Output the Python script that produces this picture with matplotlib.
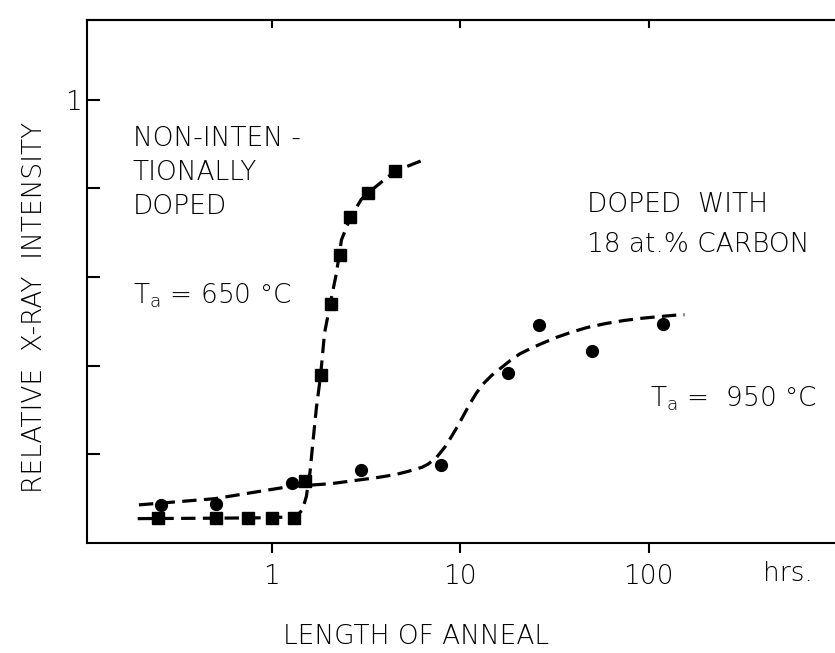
import matplotlib
matplotlib.use('Agg')
import matplotlib.pyplot as plt
import matplotlib.transforms as mtransforms

plt.rcParams['font.family'] = ['DejaVu Sans']
plt.rcParams['font.weight'] = 'light'
plt.rcParams['mathtext.default'] = 'regular'

# squares: non-intentionally doped, Ta = 650 C
sq_x = [0.25, 0.51, 0.75, 1.0, 1.31, 1.50, 1.82, 2.08, 2.32, 2.62, 3.26, 4.53]
sq_y = [0.057, 0.057, 0.057, 0.057, 0.057, 0.14, 0.38, 0.54, 0.65, 0.735, 0.79, 0.84]
# dashed guide through squares
sq_fit_x = [0.195, 0.5, 1.0, 1.35, 1.46, 1.53, 1.6, 1.66, 1.73, 1.82, 1.91, 2.05, 2.21,
            2.35, 2.62, 2.99, 3.26, 3.82, 4.53, 6.2]
sq_fit_y = [0.055, 0.056, 0.057, 0.06, 0.075, 0.105, 0.16, 0.23, 0.305, 0.377, 0.473,
            0.541, 0.609, 0.684, 0.734, 0.775, 0.79, 0.814, 0.839, 0.862]

# circles: doped with 18 at.% carbon, Ta = 950 C
ci_x = [0.26, 0.51, 1.29, 2.99, 7.9, 17.9, 26.2, 49.9, 118.6]
ci_y = [0.086, 0.089, 0.136, 0.164, 0.175, 0.384, 0.491, 0.434, 0.493]
# dashed guide through circles
ci_fit_x = [0.198, 0.5, 0.85, 1.23, 2.08, 3.68, 4.5, 5.24, 6.3, 6.77, 7.5, 8.33, 9.0,
            9.76, 10.5, 11.3, 12.2, 13.2, 14.7, 16.5, 18.5, 20.8, 24, 27.8, 32.5, 38.6,
            47, 59, 74, 92, 115, 139, 155]
ci_fit_y = [0.086, 0.1, 0.116, 0.127, 0.134, 0.148, 0.154, 0.161, 0.171, 0.178, 0.193,
            0.217, 0.24, 0.265, 0.29, 0.315, 0.338, 0.358, 0.378, 0.395, 0.412, 0.427,
            0.44, 0.452, 0.464, 0.475, 0.486, 0.495, 0.502, 0.507, 0.511, 0.514, 0.515]

x_ticks = [1, 10, 100]
x_tick_labels = ['1', '10', '100']
y_ticks = [0.2, 0.4, 0.6, 0.8, 1.0]
y_tick_labels = ['', '', '', '', '1']

fs = 19
fig = plt.figure(figsize=(8.35, 6.53), dpi=100)
ax = fig.add_axes([87 / 835, 1 - 543 / 653, 1 - 87 / 835, (543 - 20) / 653])

ax.plot(sq_fit_x, sq_fit_y, color='black', lw=2.3, dashes=(4.5, 2.3))
ax.plot(ci_fit_x, ci_fit_y, color='black', lw=2.3, dashes=(4.5, 2.3))
ax.plot(sq_x, sq_y, 's', color='black', ms=9, zorder=3)
ax.plot(ci_x, ci_y, 'o', color='black', ms=8.5, zorder=3)

ax.set_xscale('log')
ax.set_xlim(0.105, 975)
ax.set_ylim(0, 1.18)

ax.set_xticks(x_ticks)
ax.set_xticklabels(x_tick_labels)
ax.xaxis.set_minor_locator(matplotlib.ticker.NullLocator())
ax.set_yticks(y_ticks)
ax.set_yticklabels(y_tick_labels)

ax.tick_params(axis='x', direction='out', length=7, width=1.5, labelsize=fs, pad=8)
ax.tick_params(axis='y', direction='in', length=9, width=1.5, labelsize=fs, pad=4)

top = ax.secondary_xaxis('top')
top.set_xticks(x_ticks)
top.set_xticklabels([])
top.xaxis.set_minor_locator(matplotlib.ticker.NullLocator())
top.tick_params(direction='in', length=6, width=1.5)
top.spines['top'].set_linewidth(1.5)

ax.spines['right'].set_visible(False)
for s in ['left', 'bottom', 'top']:
    ax.spines[s].set_linewidth(1.5)

# units label after the 100 tick
trans = mtransforms.blended_transform_factory(ax.transData, ax.transAxes)
ax.text(550, -0.058, 'hrs.', transform=trans, fontsize=fs, ha='center', va='center')

ax.text(0.184, 0.835, 'NON-INTEN -\nTIONALLY\nDOPED', fontsize=fs, ha='left', va='center',
        linespacing=1.45)
ax.text(0.184, 0.54, 'T$_a$ = 650 °C', fontsize=fs, ha='left', va='baseline')
ax.text(47, 0.718, 'DOPED  WITH\n18 at.% CARBON', fontsize=fs, ha='left', va='center',
        linespacing=1.75)
ax.text(102, 0.308, 'T$_a$ =  950 °C', fontsize=fs, ha='left', va='baseline')

fig.text(35 / 835, 1 - 307 / 653, 'RELATIVE  X-RAY  INTENSITY', rotation=90, fontsize=fs,
         ha='center', va='center')
fig.text(416 / 835, 1 - 637 / 653, 'LENGTH OF ANNEAL', fontsize=fs, ha='center',
         va='center')

fig.savefig('out.png', dpi=100)
